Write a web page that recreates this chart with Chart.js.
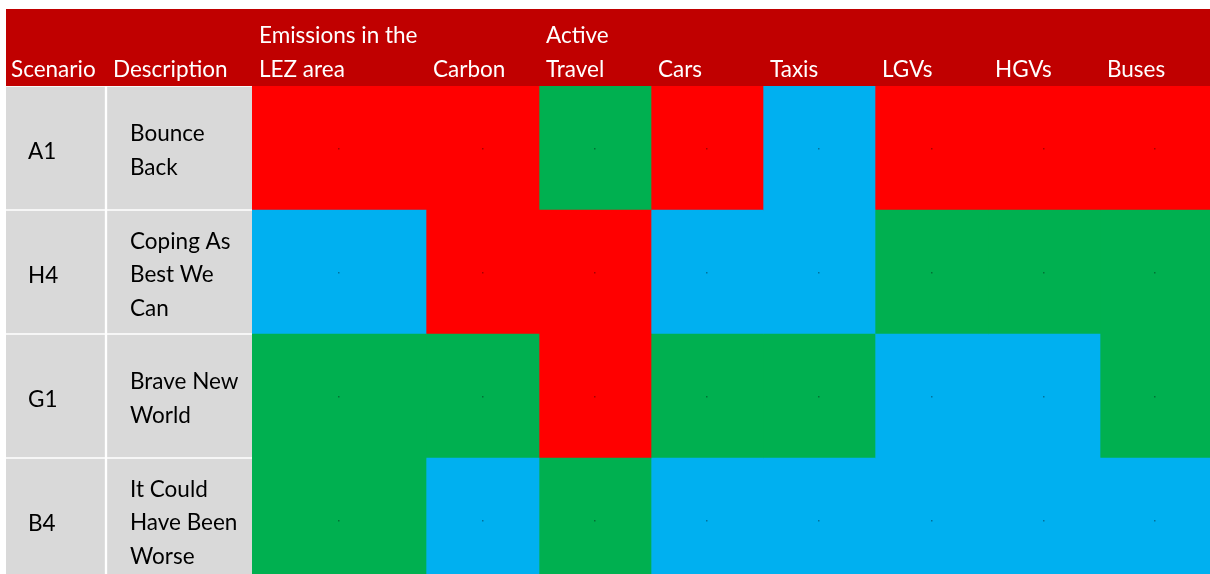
<!DOCTYPE html>
<html>
<head>
<meta charset="utf-8">
<script src="https://cdn.jsdelivr.net/npm/chart.js@4.4.0/dist/chart.umd.min.js"></script>
<style>
  html, body { margin: 0; padding: 0; background: #fff; overflow: hidden; }
  #wrap { width: 1210px; height: 574px; overflow: hidden; }
</style>
</head>
<body>
<div id="wrap"><canvas id="grid" width="1210" height="582"></canvas></div>
<script>
// table data
const scenarios = ['A1', 'H4', 'G1', 'B4'];
const descriptions = [
    ['Bounce', 'Back'],
    ['Coping As', 'Best We', 'Can'],
    ['Brave New', 'World'],
    ['It Could', 'Have Been', 'Worse']
];
const headers = [
    ['Scenario'], ['Description'], ['Emissions in the', 'LEZ area'], ['Carbon'],
    ['Active', 'Travel'], ['Cars'], ['Taxis'], ['LGVs'], ['HGVs'], ['Buses']
];
// impact: -1 worse (red), 0 neutral (blue), 1 better (green)
const impactA1 = [-1, -1, 1, -1, 0, -1, -1, -1];
const impactH4 = [0, -1, -1, 0, 0, 1, 1, 1];
const impactG1 = [1, 1, -1, 1, 1, 0, 0, 1];
const impactB4 = [1, 0, 1, 0, 0, 0, 0, 0];
const impacts = [impactA1, impactH4, impactG1, impactB4];

// layout
const colWidths = [100, 146, 174, 113, 112, 112, 112, 113, 112, 110];
const edges = [0];
colWidths.forEach(w => edges.push(edges[edges.length - 1] + w));
const impactColor = { '-1': '#FF0000', '0': '#00B0F0', '1': '#00B050' };
const FONT = '22.5px Lato';

const datasets = headers.map((h, c) => {
    const isText = c < 2;
    return {
        label: h.join(' '),
        data: scenarios.map(() => [edges[c], edges[c + 1]]),
        backgroundColor: scenarios.map((s, r) => isText ? '#D9D9D9' : impactColor[impacts[r][c - 2]]),
        borderColor: '#FFFFFF',
        borderWidth: isText ? { top: 1, bottom: 1, left: c === 0 ? 0 : 1.5, right: c === 0 ? 1.5 : 0 } : 0,
        borderSkipped: false,
        grouped: false,
        barPercentage: 1,
        categoryPercentage: 1
    };
});

const tablePlugin = {
    id: 'tablePlugin',
    beforeDraw(chart) {
        const ctx = chart.ctx;
        const x = chart.scales.x;
        ctx.save();
        ctx.fillStyle = '#C00000';
        ctx.fillRect(x.getPixelForValue(0), 9, x.getPixelForValue(edges[edges.length - 1]) - x.getPixelForValue(0), chart.chartArea.top - 9);
        ctx.restore();
    },
    afterDatasetsDraw(chart) {
        const ctx = chart.ctx;
        const x = chart.scales.x;
        const y = chart.scales.y;
        ctx.save();
        ctx.font = FONT;
        ctx.textBaseline = 'alphabetic';
        ctx.textAlign = 'left';

        // header labels, bottom aligned
        ctx.fillStyle = '#FFFFFF';
        headers.forEach((lines, c) => {
            const px = x.getPixelForValue(edges[c]) + (c === 0 ? 5 : 7);
            lines.forEach((t, i) => {
                const base = 77 - (lines.length - 1 - i) * 34;
                ctx.fillText(t, px, base);
            });
        });

        // row labels
        ctx.fillStyle = '#000000';
        scenarios.forEach((s, r) => {
            const cy = y.getPixelForValue(r);
            ctx.fillText(s, x.getPixelForValue(edges[0]) + 22, cy + 11);
            const lines = descriptions[r];
            lines.forEach((t, i) => {
                const base = cy + 10 + (i - (lines.length - 1) / 2) * 33.5;
                ctx.fillText(t, x.getPixelForValue(edges[1]) + 24, base);
            });
        });

        // tiny value marks at cell centres
        ctx.fillStyle = 'rgba(0,0,0,0.35)';
        for (let c = 2; c < headers.length; c++) {
            chart.getDatasetMeta(c).data.forEach(el => {
                const cx = (el.x + el.base) / 2;
                ctx.fillRect(Math.round(cx) - 1, Math.round(el.y), 1.5, 1.5);
            });
        }
        ctx.restore();
    }
};

new Chart(document.getElementById('grid').getContext('2d'), {
    type: 'bar',
    data: { labels: scenarios, datasets: datasets },
    options: {
        indexAxis: 'y',
        responsive: false,
        animation: false,
        layout: { padding: { left: 6, right: 0, top: 86, bottom: 0 } },
        plugins: { legend: { display: false }, tooltip: { enabled: false } },
        scales: {
            x: { type: 'linear', min: 0, max: edges[edges.length - 1], display: false },
            y: { type: 'category', display: false, offset: true }
        }
    },
    plugins: [tablePlugin]
});
</script>
</body>
</html>
